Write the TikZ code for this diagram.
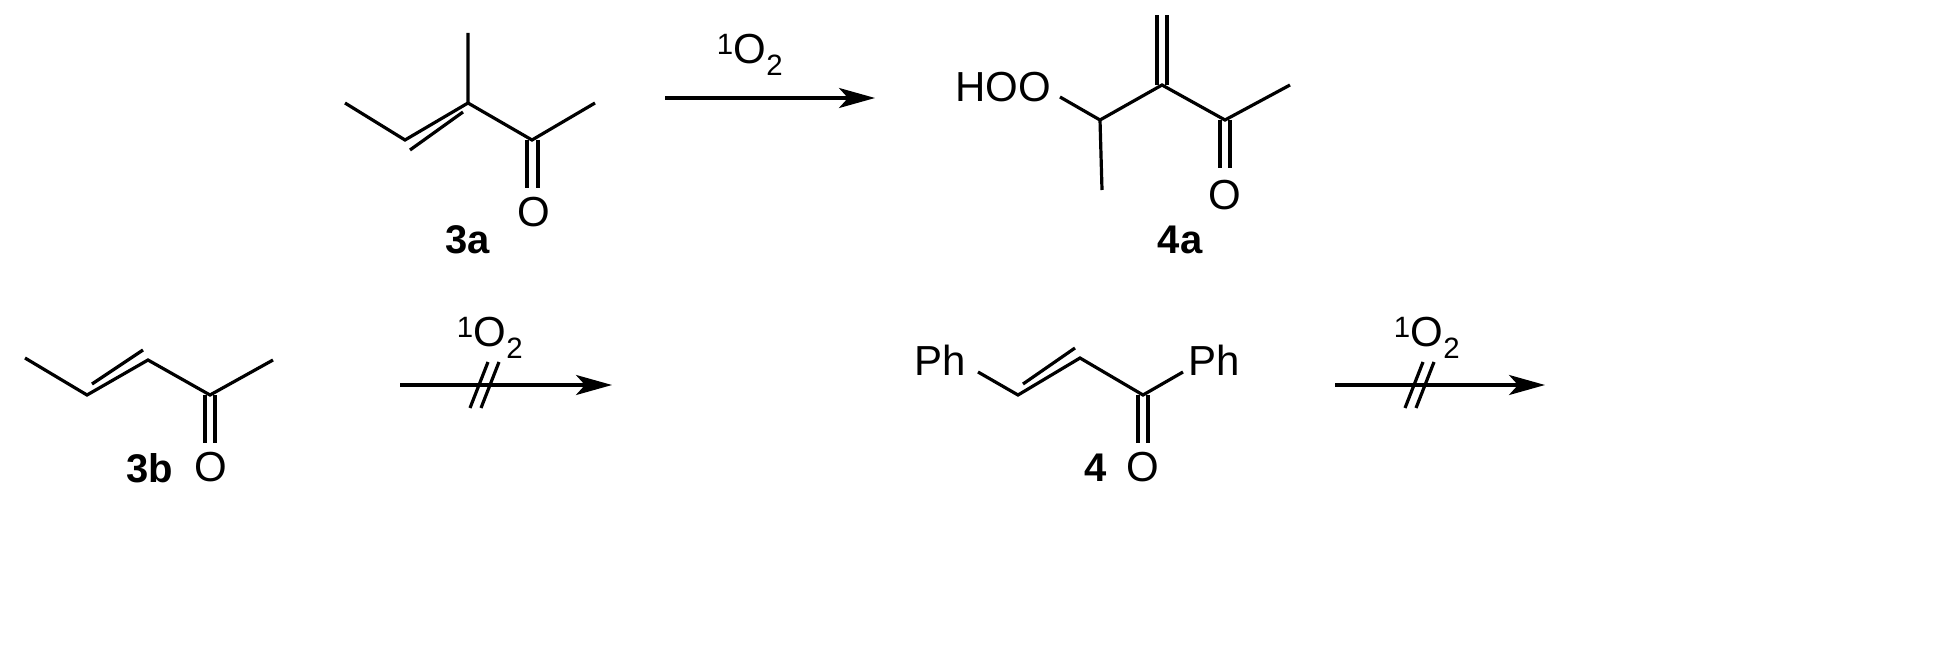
\documentclass[tikz,border=0pt]{standalone}
\usepackage{fontspec}
\setmainfont{Liberation Sans}
\usetikzlibrary{arrows.meta}
\begin{document}
\begin{tikzpicture}[x=1pt,y=-1pt,line width=3.2pt,
  lbl/.style={font=\fontsize{42}{44}\selectfont,inner sep=0pt},
  cmp/.style={font=\fontsize{40}{42}\selectfont\bfseries,inner sep=0pt},
  rxn/.style={-{Stealth[length=36pt,width=20pt,inset=9pt]}}]
\useasboundingbox (0,0) rectangle (1956,650);
% 3a
\coordinate (a1) at (345,103); \coordinate (a2) at (405,140); \coordinate (a3) at (468,103);
\coordinate (a4) at (468,33); \coordinate (a5) at (532,140); \coordinate (a6) at (595,103);
\node[lbl] (aO) at (534,212) {O};
\draw (a1)--(a2)--(a3)--(a4); \draw (a3)--(a5)--(a6);
\draw ([shift={(5,10)}]a2) -- ([shift={(-5,9)}]a3);
\draw ([xshift=-5]a5) -- ++(0,48); \draw ([xshift=6]a5) -- ++(0,48);
\node[cmp] (n3a) at (468,240) {3a};
% arrow 1
\coordinate (r1s) at (665,98); \coordinate (r1e) at (875,98);
\draw[rxn] (r1s) -- (r1e);
\node[lbl] (r1l) at (750,55) {\textsuperscript{1}O\textsubscript{2}};
% 4a
\node[lbl] (hoo) at (1003,87) {HOO};
\coordinate (b1) at (1100,120); \coordinate (b2) at (1102,190); \coordinate (b3) at (1162,85);
\coordinate (b4) at (1162,15); \coordinate (b5) at (1225,120); \coordinate (b6) at (1290,85);
\node[lbl] (bO) at (1225,195) {O};
\draw (1060,97) -- (b1) -- (b2); \draw (b1)--(b3)--(b5)--(b6);
\draw ([xshift=-5]b3) -- ([xshift=-5]b4); \draw ([xshift=5]b3) -- ([xshift=5]b4);
\draw ([xshift=-5]b5) -- ++(0,48); \draw ([xshift=5]b5) -- ++(0,48);
\node[cmp] (n4a) at (1180,240) {4a};
% 3b
\coordinate (c1) at (25,358); \coordinate (c2) at (87,395); \coordinate (c3) at (148,360);
\coordinate (c4) at (210,395); \coordinate (c5) at (273,360);
\node[lbl] (cO) at (211,467) {O};
\draw (c1)--(c2)--(c3)--(c4)--(c5);
\draw ([shift={(5,-11)}]c2) -- ([shift={(-5,-10)}]c3);
\draw ([xshift=-5]c4) -- ++(0,48); \draw ([xshift=5]c4) -- ++(0,48);
\node[cmp] (n3b) at (150,468) {3b};
% arrow 2
\coordinate (r2s) at (400,385); \coordinate (r2e) at (612,385);
\draw[rxn] (r2s) -- (r2e);
\draw (470,408) -- (488,362); \draw (481,408) -- (499,362);
\node[lbl] (r2l) at (490,338) {\textsuperscript{1}O\textsubscript{2}};
% 4
\node[lbl] (ph1) at (940,360) {Ph};
\node[lbl] (ph2) at (1214,360) {Ph};
\coordinate (d2) at (1018,395); \coordinate (d3) at (1080,358); \coordinate (d4) at (1143,395);
\node[lbl] (dO) at (1143,467) {O};
\draw (978,372)--(d2)--(d3)--(d4)--(1183,372);
\draw ([shift={(5,-11)}]d2) -- ([shift={(-5,-10)}]d3);
\draw ([xshift=-5]d4) -- ++(0,48); \draw ([xshift=5]d4) -- ++(0,48);
\node[cmp] (n4) at (1096,468) {4};
% arrow 3
\coordinate (r3s) at (1335,385); \coordinate (r3e) at (1545,385);
\draw[rxn] (r3s) -- (r3e);
\draw (1405,408) -- (1423,362); \draw (1416,408) -- (1434,362);
\node[lbl] (r3l) at (1427,338) {\textsuperscript{1}O\textsubscript{2}};
\end{tikzpicture}
\end{document}
